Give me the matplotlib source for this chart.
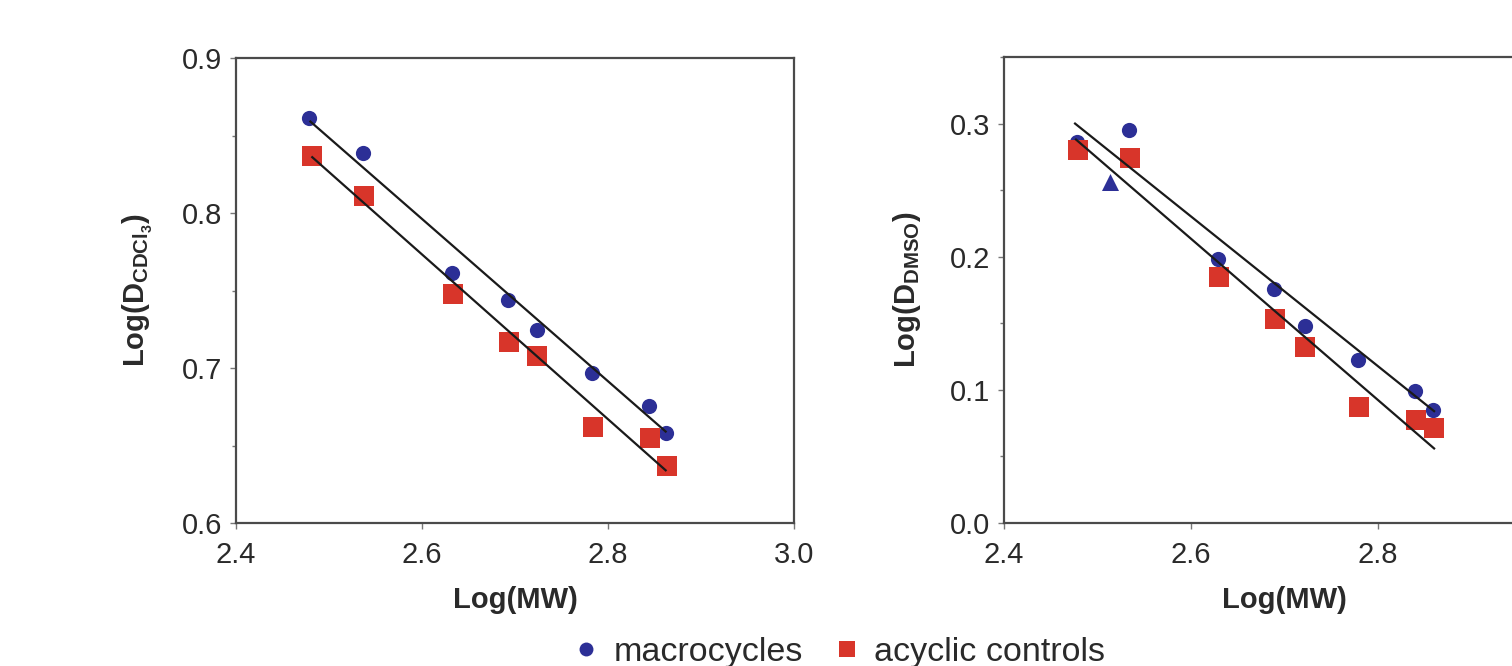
import matplotlib
matplotlib.use("Agg")
import matplotlib.pyplot as plt
from matplotlib.lines import Line2D
from matplotlib.ticker import MultipleLocator, FormatStrFormatter

plt.rcParams['font.family'] = ['Liberation Sans', 'DejaVu Sans']
plt.rcParams['mathtext.fontset'] = 'custom'
plt.rcParams['mathtext.rm'] = 'Liberation Sans:bold'
plt.rcParams['mathtext.it'] = 'Liberation Sans:bold'
plt.rcParams['mathtext.bf'] = 'Liberation Sans:bold'
plt.rcParams['mathtext.default'] = 'rm'

# ---- data: CDCl3 panel ----
cdcl3_macro_x = [2.479, 2.537, 2.632, 2.692, 2.724, 2.783, 2.844, 2.862]
cdcl3_macro_y = [0.861, 0.839, 0.761, 0.744, 0.7245, 0.697, 0.6755, 0.658]
cdcl3_acyc_x = [2.482, 2.538, 2.633, 2.694, 2.724, 2.784, 2.845, 2.863]
cdcl3_acyc_y = [0.837, 0.811, 0.748, 0.717, 0.708, 0.662, 0.655, 0.637]
cdcl3_fit_macro_x = [2.480, 2.862]
cdcl3_fit_macro_y = [0.859, 0.659]
cdcl3_fit_acyc_x = [2.482, 2.862]
cdcl3_fit_acyc_y = [0.836, 0.634]

# ---- data: DMSO panel ----
dmso_macro_x = [2.478, 2.534, 2.629, 2.689, 2.722, 2.779, 2.840, 2.859]
dmso_macro_y = [0.286, 0.295, 0.198, 0.176, 0.148, 0.1226, 0.099, 0.085]
dmso_tri_x = [2.513]
dmso_tri_y = [0.256]
dmso_acyc_x = [2.479, 2.535, 2.630, 2.690, 2.722, 2.780, 2.841, 2.860]
dmso_acyc_y = [0.280, 0.274, 0.185, 0.153, 0.132, 0.087, 0.077, 0.071]
dmso_fit_macro_x = [2.476, 2.860]
dmso_fit_macro_y = [0.300, 0.084]
dmso_fit_acyc_x = [2.477, 2.860]
dmso_fit_acyc_y = [0.288, 0.056]

x_ticks_left = [2.4, 2.6, 2.8, 3.0]
x_ticks_right = [2.4, 2.6, 2.8]
legend_labels = ['macrocycles', 'acyclic controls']

BLUE = '#2c2f96'
RED = '#d8352a'
SPINE = '#4a4a4a'
TXT = '#2a2a2a'

W, H = 1512, 666
fig = plt.figure(figsize=(W / 100, H / 100), dpi=100)

def px_axes(l, r, t, b):
    return fig.add_axes([l / W, 1 - b / H, (r - l) / W, (b - t) / H])

ax1 = px_axes(236, 794, 58, 523)
ax2 = px_axes(1004, 1565, 57, 523)

def style(ax, xt):
    for s in ax.spines.values():
        s.set_color(SPINE)
        s.set_linewidth(1.6)
    ax.tick_params(which='both', direction='out', colors='#777777',
                   labelcolor=TXT, labelsize=21, width=1)
    ax.tick_params(which='major', length=4)
    ax.tick_params(axis='y', which='major', pad=6)
    ax.tick_params(axis='x', which='major', pad=9)
    ax.tick_params(which='minor', length=3)
    ax.set_xticks(xt)
    ax.xaxis.set_major_formatter(FormatStrFormatter('%.1f'))
    ax.yaxis.set_major_formatter(FormatStrFormatter('%.1f'))
    ax.yaxis.set_minor_locator(MultipleLocator(0.05))

# left panel
ax1.plot(cdcl3_fit_macro_x, cdcl3_fit_macro_y, color='#1a1a1a', lw=1.6, zorder=3)
ax1.plot(cdcl3_fit_acyc_x, cdcl3_fit_acyc_y, color='#1a1a1a', lw=1.6, zorder=3)
ax1.scatter(cdcl3_macro_x, cdcl3_macro_y, s=120, marker='o', color=BLUE, zorder=2, linewidths=0)
ax1.scatter(cdcl3_acyc_x, cdcl3_acyc_y, s=210, marker='s', color=RED, zorder=2, linewidths=0)
ax1.set_xlim(2.4, 3.0)
ax1.set_ylim(0.6, 0.9)
ax1.set_yticks([0.6, 0.7, 0.8, 0.9])
style(ax1, x_ticks_left)
ax1.set_xlabel('Log(MW)', fontsize=21, fontweight='bold', color=TXT, labelpad=12)
ax1.set_ylabel(r'Log(D$_{CDCl_{3}}$)', fontsize=21, fontweight='bold', color=TXT, labelpad=19)

# right panel
ax2.plot(dmso_fit_macro_x, dmso_fit_macro_y, color='#1a1a1a', lw=1.6, zorder=3)
ax2.plot(dmso_fit_acyc_x, dmso_fit_acyc_y, color='#1a1a1a', lw=1.6, zorder=3)
ax2.scatter(dmso_macro_x, dmso_macro_y, s=120, marker='o', color=BLUE, zorder=1, linewidths=0)
ax2.scatter(dmso_tri_x, dmso_tri_y, s=150, marker='^', color=BLUE, zorder=2, linewidths=0)
ax2.scatter(dmso_acyc_x, dmso_acyc_y, s=210, marker='s', color=RED, zorder=2, linewidths=0)
ax2.set_xlim(2.4, 3.0)
ax2.set_ylim(0.0, 0.35)
ax2.set_yticks([0.0, 0.1, 0.2, 0.3])
style(ax2, x_ticks_right)
ax2.set_xlabel('Log(MW)', fontsize=21, fontweight='bold', color=TXT, labelpad=12)
ax2.set_ylabel(r'Log(D$_{DMSO}$)', fontsize=21, fontweight='bold', color=TXT, labelpad=19)

handles = [Line2D([], [], ls='none', marker='o', markersize=10, color=BLUE, mew=0),
           Line2D([], [], ls='none', marker='s', markersize=11, color=RED, mew=0)]
fig.legend(handles, legend_labels, loc='center', bbox_to_anchor=(0.556, 1 - 652 / H),
           ncol=2, frameon=False, fontsize=24.5, handlelength=0.6, handletextpad=0.5,
           columnspacing=1.0, labelcolor=TXT)

fig.savefig('out.png', dpi=100)
